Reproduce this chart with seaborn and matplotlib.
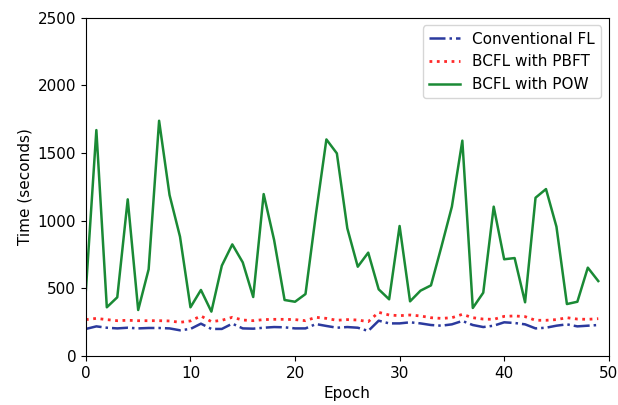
import numpy as np
import matplotlib
matplotlib.use('Agg')
import matplotlib.pyplot as plt
import seaborn as sns

epochs = list(range(50))

conventional_fl = [200, 219, 209, 204, 209, 204, 207, 207, 204, 190,
                   200, 239, 200, 200, 239, 204, 202, 209, 214, 212,
                   204, 204, 236, 222, 209, 214, 209, 185, 261, 241,
                   241, 249, 241, 229, 224, 234, 259, 229, 214, 224,
                   249, 244, 234, 204, 209, 224, 234, 219, 224, 229]

bcfl_pbft = [269, 278, 269, 261, 264, 261, 261, 261, 259, 249,
             259, 296, 254, 264, 286, 266, 261, 269, 271, 271,
             269, 261, 286, 278, 264, 269, 266, 254, 323, 303,
             298, 303, 296, 283, 278, 283, 308, 283, 273, 271,
             293, 296, 291, 264, 264, 269, 283, 273, 271, 276]

bcfl_pow = [488, 1670, 360, 434, 1158, 340, 641, 1739, 1190, 882,
            360, 488, 328, 668, 825, 692, 436, 1197, 857, 414,
            401, 458, 1050, 1601, 1498, 944, 660, 764, 493, 419,
            961, 404, 483, 522, 808, 1104, 1592, 355, 468, 1104,
            715, 724, 397, 1170, 1234, 956, 384, 401, 653, 554]

plt.rcParams['font.size'] = 11

fig = plt.figure(figsize=(6.18, 4.05), dpi=100)
ax = fig.add_axes([0.139, 0.121, 0.846, 0.835])

sns.lineplot(x=epochs, y=conventional_fl, ax=ax, color='#2b3a9e', linestyle='-.',
             linewidth=1.8, label='Conventional FL')
sns.lineplot(x=epochs, y=bcfl_pbft, ax=ax, color='#ff2a2a', linestyle=':',
             linewidth=2.0, label='BCFL with PBFT')
sns.lineplot(x=epochs, y=bcfl_pow, ax=ax, color='#1a8a35', linestyle='-',
             linewidth=1.8, label='BCFL with POW')

ax.set_xlim(0, 50)
ax.set_ylim(0, 2500)
ax.set_xticks([0, 10, 20, 30, 40, 50])
ax.set_yticks([0, 500, 1000, 1500, 2000, 2500])
ax.tick_params(labelsize=11)
ax.set_xlabel('Epoch', fontsize=11)
ax.set_ylabel('Time (seconds)', fontsize=11)
ax.legend(loc='upper right', fontsize=11)

fig.savefig('out.png', dpi=100)
